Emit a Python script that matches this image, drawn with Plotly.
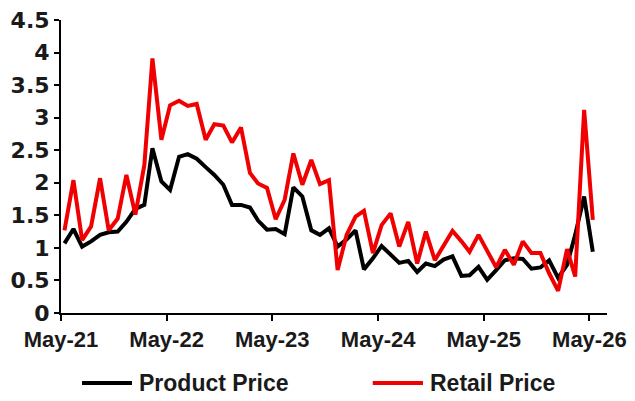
import pandas as pd
import plotly.graph_objects as go

# Monthly observations, mid-May 2021 .. mid-May 2026
months = pd.date_range(start="2021-05-13", periods=61, freq=pd.DateOffset(months=1))

product_price = [
    1.07, 1.29, 1.02, 1.10, 1.20, 1.24, 1.25, 1.40, 1.60, 1.66,
    2.53, 2.02, 1.89, 2.40, 2.44, 2.37, 2.24, 2.12, 1.97, 1.66,
    1.66, 1.62, 1.42, 1.28, 1.29, 1.21, 1.93, 1.79, 1.27, 1.20,
    1.30, 1.02, 1.13, 1.27, 0.67, 0.84, 1.03, 0.89, 0.77, 0.80,
    0.63, 0.76, 0.72, 0.82, 0.87, 0.57, 0.58, 0.71, 0.51, 0.66,
    0.81, 0.84, 0.83, 0.68, 0.70, 0.81, 0.54, 0.74, 1.20, 1.79,
    0.94,
]
retail_price = [
    1.27, 2.04, 1.12, 1.33, 2.07, 1.27, 1.45, 2.12, 1.51, 2.27,
    3.91, 2.66, 3.19, 3.26, 3.18, 3.21, 2.66, 2.90, 2.88, 2.62,
    2.85, 2.15, 1.99, 1.92, 1.44, 1.74, 2.45, 1.97, 2.35, 1.98,
    2.04, 0.66, 1.20, 1.48, 1.57, 0.92, 1.35, 1.53, 1.02, 1.40,
    0.76, 1.25, 0.81, 1.04, 1.26, 1.10, 0.94, 1.20, 0.94, 0.70,
    0.97, 0.74, 1.10, 0.92, 0.92, 0.61, 0.34, 0.98, 0.56, 3.12,
    1.43,
]

tick_dates = ["2021-05-01", "2022-05-01", "2023-05-01", "2024-05-01", "2025-05-01", "2026-05-01"]
tick_labels = ["May-21", "May-22", "May-23", "May-24", "May-25", "May-26"]

series = [
    ("Product Price", product_price, "#000000"),
    ("Retail Price", retail_price, "#F00000"),
]

fig = go.Figure()
for name, vals, color in series:
    fig.add_trace(go.Scatter(x=months, y=vals, mode="lines", name=name,
                             line=dict(color=color, width=4), showlegend=False))

# Legend drawn below the plot (line sample + label) in paper coordinates
legend_y = -0.239
legend_slots = [(0.0385, 0.130, 0.139), (0.571, 0.663, 0.672)]
for (name, _, color), (x0, x1, xt) in zip(series, legend_slots):
    fig.add_shape(type="line", xref="paper", yref="paper", x0=x0, x1=x1,
                  y0=legend_y, y1=legend_y, line=dict(color=color, width=4))
    fig.add_annotation(xref="paper", yref="paper", x=xt, y=legend_y, text=name,
                       showarrow=False, xanchor="left", yanchor="middle",
                       font=dict(size=23, family="Liberation Sans, Arial, sans-serif",
                                 weight="bold", color="#1a1a1a"))

fig.update_layout(
    width=635, height=401,
    margin=dict(l=61, r=28, t=20, b=88, autoexpand=False),
    plot_bgcolor="white", paper_bgcolor="white",
    font=dict(family="Liberation Sans, Arial, sans-serif", color="#1a1a1a"),
    showlegend=False,
)
fig.update_xaxes(
    type="date", range=["2021-05-01", "2026-07-01"],
    tickvals=tick_dates, ticktext=tick_labels,
    showgrid=False, zeroline=False,
    showline=True, linecolor="#000000", linewidth=2,
    ticks="outside", ticklen=6, tickwidth=1.5, tickcolor="#000000",
    tickfont=dict(size=22, family="Liberation Sans, Arial, sans-serif", weight="bold"),
)
fig.update_yaxes(
    range=[0, 4.5], tickvals=[0, 0.5, 1, 1.5, 2, 2.5, 3, 3.5, 4, 4.5],
    ticktext=["0", "0.5", "1", "1.5", "2", "2.5", "3", "3.5", "4", "4.5"],
    showgrid=False, zeroline=False,
    showline=True, linecolor="#000000", linewidth=2,
    ticks="outside", ticklen=5, tickwidth=1.5, tickcolor="#000000",
    tickfont=dict(size=22, family="DejaVu Sans, sans-serif", weight="bold"),
)

fig.write_html("out.html")
